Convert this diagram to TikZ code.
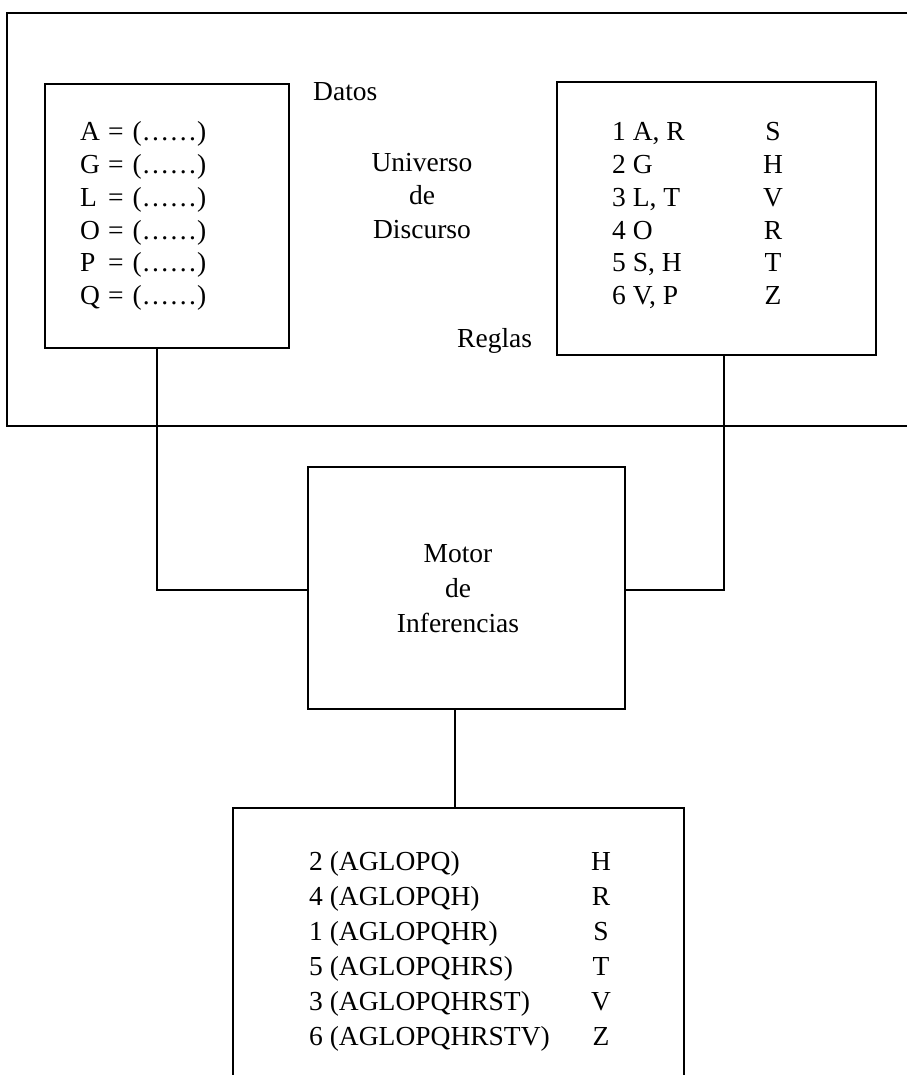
\documentclass[tikz,border=0pt]{standalone}
\usepackage{fontspec}
\setmainfont{Liberation Serif}
% six widely spaced dots for the fact values
\newcommand\factdots{\kern1pt.\kern2.4pt.\kern2.4pt.\kern2.4pt.\kern2.4pt.\kern2.4pt.\kern1pt}
\begin{document}
\begin{tikzpicture}[x=1pt,y=-1pt,
  frame/.style={line width=1.2pt},
  box/.style={draw, line width=1.2pt, inner sep=0pt, outer sep=0pt},
  ghost/.style={inner sep=0pt, outer sep=0pt},
  txt/.style={font=\fontsize{27.5}{33}\selectfont, inner sep=0pt}]
\useasboundingbox (0,0) rectangle (907,1075);

% universe of discourse: open frame running off to the right
\draw[frame] (907,13) -- (7,13) -- (7,426) -- (907,426);

% boxes
\node[box, minimum width=244pt, minimum height=264pt] (datos)  at (167,216) {};
\node[box, minimum width=319pt, minimum height=273pt] (reglas) at (716.5,218.5) {};
\node[box, minimum width=317pt, minimum height=242pt] (motor)  at (466.5,588) {};
\node[ghost, minimum width=451pt, minimum height=284pt] (traza) at (458.5,950) {};
\draw[frame] (traza.south west) -- (traza.north west) -- (traza.north east) -- (traza.south east);

% connectors
\coordinate (jl) at (157,590);
\coordinate (jr) at (724,590);
\coordinate (js) at (455,0);
\draw[frame] (datos.south -| jl) -- (jl) -- (jl -| motor.west);
\draw[frame] (reglas.south -| jr) -- (jr) -- (jr -| motor.east);
\draw[frame] (js |- motor.south) -- (js |- traza.north);

% labels
\node[txt, anchor=base west] (lbldatos) at (313,101) {Datos};
\node[txt, anchor=base] (u1) at (422,172) {Universo};
\node[txt, anchor=base] (u2) at (422,205) {de};
\node[txt, anchor=base] (u3) at (422,238) {Discurso};
\node[txt, anchor=base west] (lblreglas) at (457,347) {Reglas};

\node[txt, anchor=base] (m1) at (458,562) {Motor};
\node[txt, anchor=base] (m2) at (458,597) {de};
\node[txt, anchor=base] (m3) at (458,632) {Inferencias};

% facts
\foreach \t [count=\i] in {A,G,L,O,P,Q}
  \node[txt, anchor=base west] (d\i) at (80,{141+(\i-1)*32.7})
    {\makebox[21pt][l]{\t}\hspace{7pt}=\hspace{9pt}(\factdots)};

% rules
\foreach \a/\b [count=\i] in {1 A{,} R/S, 2 G/H, 3 L{,} T/V, 4 O/R, 5 S{,} H/T, 6 V{,} P/Z}{
  \node[txt, anchor=base west] (r\i) at (612,{141+(\i-1)*32.7}) {\a};
  \node[txt, anchor=base] (c\i) at (773,{141+(\i-1)*32.7}) {\b};
}

% inference trace
\foreach \a/\b [count=\i] in {2 (AGLOPQ)/H, 4 (AGLOPQH)/R, 1 (AGLOPQHR)/S, 5 (AGLOPQHRS)/T, 3 (AGLOPQHRST)/V, 6 (AGLOPQHRSTV)/Z}{
  \node[txt, anchor=base west] (t\i) at (309,{870+(\i-1)*35}) {\a};
  \node[txt, anchor=base] (k\i) at (601,{870+(\i-1)*35}) {\b};
}
\end{tikzpicture}
\end{document}
